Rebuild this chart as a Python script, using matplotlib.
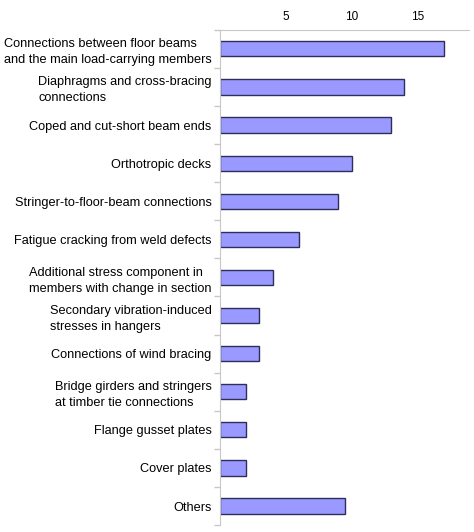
import matplotlib
matplotlib.use("Agg")
import matplotlib.pyplot as plt
import numpy as np

plt.rcParams["font.family"] = ["Liberation Sans", "DejaVu Sans"]

categories = [
    "Connections between floor beams\nand the main load-carrying members",
    "Diaphragms and cross-bracing\nconnections",
    "Coped and cut-short beam ends",
    "Orthotropic decks",
    "Stringer-to-floor-beam connections",
    "Fatigue cracking from weld defects",
    "Additional stress component in\nmembers with change in section",
    "Secondary vibration-induced\nstresses in hangers",
    "Connections of wind bracing",
    "Bridge girders and stringers\nat timber tie connections",
    "Flange gusset plates",
    "Cover plates",
    "Others",
]
counts = [17, 14, 13, 10, 9, 6, 4, 3, 3, 2, 2, 2, 9.5]
xticks = [5, 10, 15]

fig = plt.figure(figsize=(4.74, 5.32), dpi=100)
ax = fig.add_axes([0.464, 0.013, 0.525, 0.931])

y = np.arange(len(categories))
ax.barh(y, counts, height=0.4, color="#9999ff", edgecolor="#2e2e5c", linewidth=1.0)

ax.set_ylim(len(categories) - 0.5, -0.5)
ax.set_xlim(0, 18.9)

ax.xaxis.tick_top()
ax.set_xticks(xticks)
ax.set_xticklabels([str(t) for t in xticks], fontsize=8.5)
ax.tick_params(axis="x", length=0, pad=5)

ax.set_yticks(y)
ax.set_yticklabels(categories, fontsize=9.2, linespacing=1.4)
for lab in ax.get_yticklabels():
    lab.set_multialignment("left")
ax.tick_params(axis="y", which="major", length=0, pad=6)
ax.set_yticks(np.arange(len(categories) + 1) - 0.5, minor=True)
ax.tick_params(axis="y", which="minor", length=4, color="#c8c8c8", width=1)

for s in ["right", "bottom"]:
    ax.spines[s].set_visible(False)
ax.spines["left"].set_color("#c8c8c8")
ax.spines["top"].set_color("#c8c8c8")

fig.savefig("out.png", dpi=100)
